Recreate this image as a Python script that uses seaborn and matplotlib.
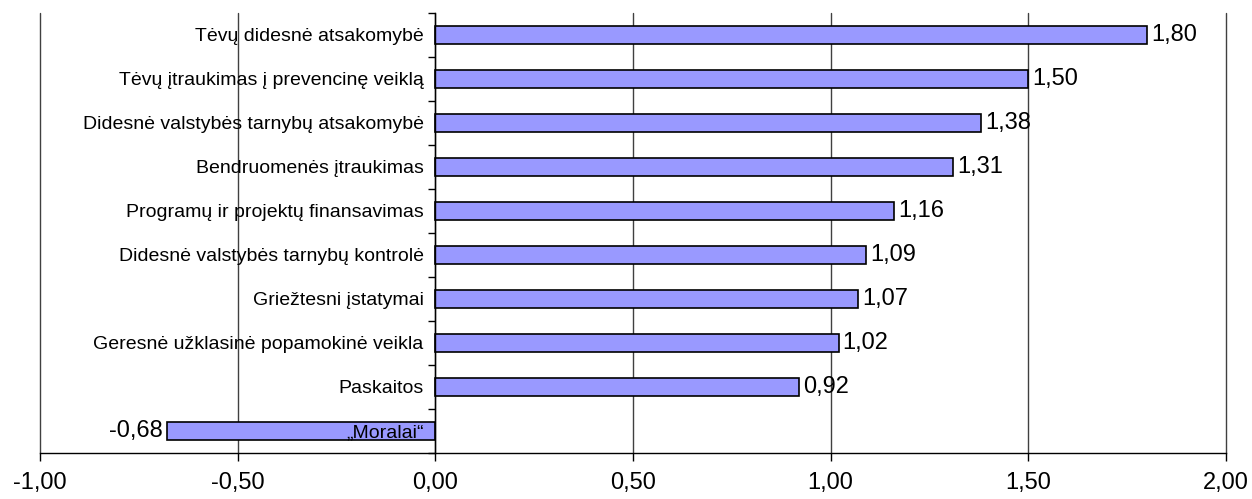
import pandas as pd
import seaborn as sns
import matplotlib.pyplot as plt
from matplotlib.ticker import FuncFormatter, FixedLocator

categories = [
    "Tėvų didesnė atsakomybė",
    "Tėvų įtraukimas į prevencinę veiklą",
    "Didesnė valstybės tarnybų atsakomybė",
    "Bendruomenės įtraukimas",
    "Programų ir projektų finansavimas",
    "Didesnė valstybės tarnybų kontrolė",
    "Griežtesni įstatymai",
    "Geresnė užklasinė popamokinė veikla",
    "Paskaitos",
    "„Moralai“",
]
values = [1.80, 1.50, 1.38, 1.31, 1.16, 1.09, 1.07, 1.02, 0.92, -0.68]
x_ticks = [-1.0, -0.5, 0.0, 0.5, 1.0, 1.5, 2.0]

df = pd.DataFrame({"kategorija": categories, "reiksme": values})

sns.set_style("white")
plt.rcParams['font.family'] = ['Liberation Sans', 'DejaVu Sans']
plt.rcParams.update({"text.color": "black", "xtick.color": "black", "ytick.color": "black"})

fig = plt.figure(figsize=(12.52, 4.99), dpi=100)
ax = fig.add_axes([40 / 1252, 1 - 453 / 499, (1226 - 40) / 1252, (453 - 13) / 499])

# grid lines by hand so the category labels can stay above the bars
for xv in x_ticks:
    ax.axvline(xv, color="#404040", linewidth=1, zorder=0, clip_on=False)

sns.barplot(data=df, x="reiksme", y="kategorija", orient="h", color="#9999ff",
            saturation=1, edgecolor="black", linewidth=1.2, width=0.43, ax=ax)

comma = lambda v: f"{v:.2f}".replace(".", ",")
ax.bar_label(ax.containers[0], fmt=comma, padding=3, fontsize=17, color="black")

ax.set_xlim(-1, 2)
ax.set_ylim(len(categories) - 0.5, -0.5)
ax.set_xticks(x_ticks)
ax.xaxis.set_major_formatter(FuncFormatter(lambda v, p: comma(v)))
ax.tick_params(axis="x", direction="out", length=6, width=1, labelsize=17, pad=8, bottom=True,
               colors="black")
ax.grid(False)

# y axis sits at zero, ticks between categories
ax.spines["left"].set_position(("data", 0))
ax.spines["top"].set_visible(False)
ax.spines["right"].set_visible(False)
for s in ("left", "bottom"):
    ax.spines[s].set_color("black")
    ax.spines[s].set_linewidth(1)
ax.yaxis.set_minor_locator(FixedLocator([i - 0.5 for i in range(len(categories) + 1)]))
ax.tick_params(axis="y", which="major", length=0, pad=8.5, labelsize=14, left=True, colors="black")
ax.tick_params(axis="y", which="minor", direction="out", length=5, width=1, left=True, colors="black")
ax.yaxis.set_zorder(3)

ax.set_xlabel("")
ax.set_ylabel("")

fig.savefig("out.png", dpi=100)
